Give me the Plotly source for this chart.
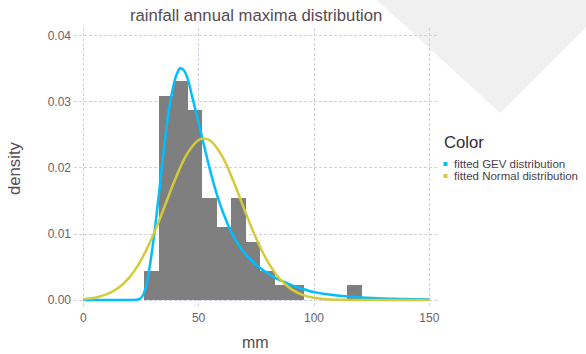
import plotly.graph_objects as go

# Histogram of annual rainfall maxima (mm): bin edges and counts per bin
bin_edges = [26.4, 32.68, 38.96, 45.24, 51.52, 57.8, 64.08, 70.36, 76.64,
             82.92, 89.2, 95.48, 101.76, 108.04, 114.32, 120.6]
bin_counts = [2, 14, 15, 13, 7, 5, 7, 4, 2, 1, 1, 0, 0, 0, 1]

# Fitted GEV density
gev_x = [0, 10, 18, 21, 23, 24, 25, 26, 27, 28, 29, 30, 31, 32, 33, 34, 35,
         36, 37, 38, 39, 40, 41, 42, 43, 44, 45, 46, 47, 48, 49, 50, 52, 54,
         56, 58, 60, 62, 64, 66, 68, 70, 72, 75, 78, 82, 86, 90, 95, 100,
         105, 110, 115, 120, 125, 130, 135, 140, 145, 150]
gev_y = [0.0, 0.0, 0.0, 0.00001, 0.00004, 0.00012, 0.0003, 0.0008, 0.0018,
         0.0034, 0.0055, 0.0079, 0.0106, 0.0136, 0.0167, 0.0199, 0.0230,
         0.0259, 0.0285, 0.0306, 0.0323, 0.0337, 0.0346, 0.0351, 0.0350,
         0.0346, 0.0338, 0.0326, 0.0311, 0.0297, 0.0283, 0.0269, 0.0239,
         0.0210, 0.0183, 0.0159, 0.0138, 0.0120, 0.0104, 0.0091, 0.0080,
         0.0071, 0.0063, 0.0053, 0.0045, 0.0036, 0.0029, 0.0023, 0.0017,
         0.0012, 0.00090, 0.00068, 0.00052, 0.00040, 0.00031, 0.00024,
         0.00019, 0.00015, 0.00012, 0.00010]

# Fitted Normal density
norm_x = [0, 5, 10, 15, 20, 25, 30, 35, 40, 45, 50, 52.3, 55, 60, 65, 70, 75,
          80, 85, 90, 95, 100, 105, 110, 115, 120, 130, 140, 150]
norm_y = [0.00014, 0.00036, 0.00085, 0.00178, 0.00344, 0.00602, 0.0096,
          0.01394, 0.01841, 0.02214, 0.02424, 0.02448, 0.02415, 0.0219,
          0.01807, 0.01357, 0.00928, 0.00578, 0.00327, 0.00169, 0.00079,
          0.00034, 0.00013, 0.00005, 0.00002, 0.0, 0.0, 0.0, 0.0]

x_ticks = [0, 50, 100, 150]
y_ticks = [0.00, 0.01, 0.02, 0.03, 0.04]

series_names = ["fitted GEV distribution", "fitted Normal distribution"]
series_colors = ["#00BFFF", "#D4CA3A"]

# Canvas and panel geometry (pixels)
W, H = 586, 354
PL, PR, PT, PB = 74, 437, 28, 306


def px_x(p):
    return (p - PL) / (PR - PL)


def px_y(p):
    return (PB - p) / (PB - PT)


total = sum(bin_counts)
centers = [(a + b) / 2 for a, b in zip(bin_edges[:-1], bin_edges[1:])]
widths = [b - a for a, b in zip(bin_edges[:-1], bin_edges[1:])]
density = [c / (total * w) for c, w in zip(bin_counts, widths)]

fig = go.Figure()
fig.add_trace(go.Bar(x=centers, y=density, width=widths,
                     marker=dict(color="#7f7f7f", line=dict(width=0)),
                     showlegend=False))
fig.add_trace(go.Scatter(x=gev_x, y=gev_y, mode="lines", name=series_names[0],
                         line=dict(color=series_colors[0], width=2.5, shape="spline"),
                         showlegend=False))
fig.add_trace(go.Scatter(x=norm_x, y=norm_y, mode="lines", name=series_names[1],
                         line=dict(color=series_colors[1], width=2.5, shape="spline"),
                         showlegend=False))

FONT = "Liberation Sans, Arial, Helvetica, sans-serif"
axis_common = dict(showgrid=True, gridcolor="#D0D0E0", gridwidth=1,
                   griddash="3px,2px", zeroline=False, showline=False,
                   ticks="", fixedrange=True,
                   tickfont=dict(family=FONT, size=12, color="#6c606b"))

fig.update_layout(
    width=W, height=H, autosize=False,
    margin=dict(l=PL, r=W - PR, t=PT, b=H - PB, pad=0),
    paper_bgcolor="white", plot_bgcolor="rgba(0,0,0,0)",
    bargap=0, showlegend=False,
    font=dict(family=FONT),
    xaxis=dict(range=[-4.0, 153.3], tickvals=x_ticks, ticklabelstandoff=3,
               **axis_common),
    yaxis=dict(range=[-0.0009, 0.0412], tickvals=y_ticks, tickformat=".2f",
               ticklabelstandoff=2, **axis_common),
)

# faint backdrop shape behind the top-right corner
tri = [(377, 0), (500, 113), (586, 27), (586, 0)]
path = "M " + " L ".join(f"{px_x(a):.4f},{px_y(b):.4f}" for a, b in tri) + " Z"
fig.add_shape(type="path", path=path, xref="paper", yref="paper",
              fillcolor="#f0f0f0", line=dict(width=0), layer="below")

annotations = [
    dict(text="rainfall annual maxima distribution", x=px_x(256), y=px_y(15),
         font=dict(size=16.7, color="#564A55")),
    dict(text="mm", x=px_x(256), y=px_y(342.5),
         font=dict(size=16, color="#564A55")),
    dict(text="density", x=px_x(14), y=px_y(168), textangle=-90,
         font=dict(size=16.7, color="#564A55")),
    dict(text="Color", x=px_x(442), y=px_y(142), xanchor="left",
         font=dict(size=16.7, color="#362a35")),
]
for i, (name, col) in enumerate(zip(series_names, series_colors)):
    cy = 164 + 12 * i
    annotations.append(dict(text=name, x=px_x(452), y=px_y(cy), xanchor="left",
                            font=dict(size=11.5, color="#4c404b")))
    fig.add_shape(type="rect", xref="paper", yref="paper",
                  x0=px_x(443.5), x1=px_x(447.5), y0=px_y(cy + 2), y1=px_y(cy - 2),
                  fillcolor=col, line=dict(width=0))

for a in annotations:
    a.setdefault("xanchor", "center")
    fig.add_annotation(xref="paper", yref="paper", showarrow=False,
                       yanchor="middle", **a)

fig.write_html("out.html")
